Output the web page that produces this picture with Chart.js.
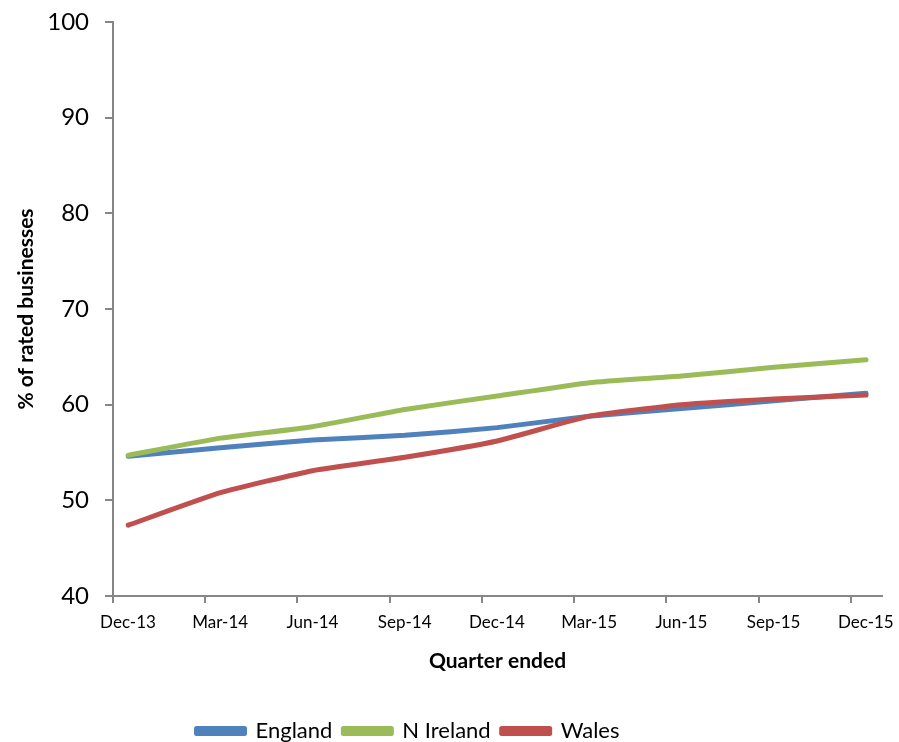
<!DOCTYPE html>
<html>
<head>
<meta charset="utf-8">
<script src="https://cdn.jsdelivr.net/npm/chart.js@4.4.1/dist/chart.umd.min.js"></script>
<style>
html, body { margin: 0; padding: 0; background: #fff; overflow: hidden; }
#wrap { width: 899px; height: 742px; overflow: hidden; }
</style>
</head>
<body>
<div id="wrap"><canvas id="chart" width="899" height="752"></canvas></div>
<script>
var quarters = ['Dec-13', 'Mar-14', 'Jun-14', 'Sep-14', 'Dec-14', 'Mar-15', 'Jun-15', 'Sep-15', 'Dec-15'];
var england = [54.6, 55.5, 56.3, 56.8, 57.6, 58.8, 59.6, 60.4, 61.2];
var nIreland = [54.7, 56.5, 57.7, 59.5, 60.9, 62.3, 63.0, 63.9, 64.7];
var wales = [47.4, 50.8, 53.1, 54.5, 56.2, 58.8, 60.0, 60.6, 61.0];
var yMin = 40, yMax = 100, yStep = 10;

// tick marks sit a little left of each quarter point
var TICK_SHIFT = 0.165;
var END_PAD = 0.173;
var axisGrey = '#868686';
var fontFamily = 'Lato, "DejaVu Sans", sans-serif';

function points(values) {
    return values.map(function (v, i) { return { x: i, y: v }; });
}

function series(label, values, colour, order) {
    return {
        label: label,
        data: points(values),
        borderColor: colour,
        backgroundColor: colour,
        borderWidth: 5,
        borderCapStyle: 'round',
        borderJoinStyle: 'round',
        tension: 0.15,
        pointRadius: 0,
        fill: false,
        order: order
    };
}

// legend row sits a bit left of the page centre
var legendShift = {
    id: 'legendShift',
    afterLayout: function (chart) {
        chart.legend.left -= 33;
        chart.legend.right -= 33;
    }
};

var chart = new Chart(document.getElementById('chart'), {
    type: 'line',
    data: {
        datasets: [
            series('England', england, '#4F81BD', 3),
            series('N Ireland', nIreland, '#9BBB59', 2),
            series('Wales', wales, '#C0504D', 1)
        ]
    },
    plugins: [legendShift],
    options: {
        responsive: false,
        devicePixelRatio: 1,
        animation: false,
        layout: { padding: { top: 22, right: 17, left: 0, bottom: 0 } },
        scales: {
            x: {
                type: 'linear',
                min: -TICK_SHIFT,
                max: quarters.length - 1 + END_PAD,
                afterBuildTicks: function (axis) {
                    axis.ticks = quarters.map(function (q, i) { return { value: i - TICK_SHIFT }; });
                },
                afterFit: function (axis) {
                    axis.height = 113;
                    axis.paddingLeft = 0;
                    axis.paddingRight = 0;
                },
                border: { color: axisGrey, width: 2 },
                grid: { drawOnChartArea: false, tickLength: 7, color: axisGrey, lineWidth: 2 },
                ticks: {
                    autoSkip: false,
                    maxRotation: 0,
                    includeBounds: false,
                    labelOffset: 15,
                    padding: 9,
                    color: '#000',
                    font: { family: fontFamily, size: 17 },
                    callback: function (value, index) { return quarters[index]; }
                },
                title: {
                    display: true,
                    text: 'Quarter ended',
                    color: '#000',
                    font: { family: fontFamily, size: 21, weight: 'bold' },
                    padding: { top: 0, bottom: 35 }
                }
            },
            y: {
                min: yMin,
                max: yMax,
                afterFit: function (axis) {
                    axis.width = 113;
                    axis.paddingTop = 0;
                    axis.paddingBottom = 0;
                },
                border: { color: axisGrey, width: 2 },
                grid: { drawOnChartArea: false, tickLength: 8, color: axisGrey, lineWidth: 2 },
                ticks: {
                    stepSize: yStep,
                    padding: 16,
                    color: '#000',
                    font: { family: fontFamily, size: 24 }
                },
                title: {
                    display: true,
                    text: '% of rated businesses',
                    color: '#000',
                    font: { family: fontFamily, size: 21, weight: 'bold' },
                    padding: { top: 14, bottom: 0 }
                }
            }
        },
        plugins: {
            tooltip: { enabled: false },
            legend: {
                position: 'bottom',
                labels: {
                    boxWidth: 48,
                    boxHeight: 5,
                    padding: 11,
                    color: '#000',
                    font: { family: fontFamily, size: 22 },
                    sort: function (a, b) { return a.datasetIndex - b.datasetIndex; }
                }
            }
        }
    }
});
</script>
</body>
</html>
